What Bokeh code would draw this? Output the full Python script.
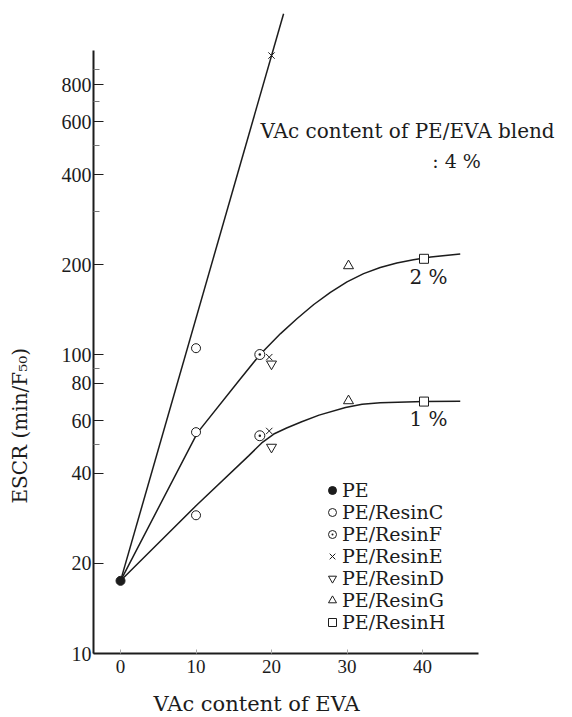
import math
from bokeh.plotting import figure
from bokeh.models import (Range1d, FixedTicker, PrintfTickFormatter, Label,
                          Legend, LegendItem, Title)
from bokeh.embed import file_html
from bokeh.resources import INLINE

# ---------------- data ----------------
x_ticks = [0, 10, 20, 30, 40]
y_ticks = [10, 20, 40, 60, 80, 100, 200, 400, 600, 800]
y_minor = [50, 90, 300, 500, 700, 900]

pe_x = [0]
pe_y = [17.5]
resinC_x = [10, 10, 10]
resinC_y = [105, 55, 29]
resinF_x = [18.45, 18.45]
resinF_y = [100, 53.5]
resinE_x = [20, 19.7, 19.7]
resinE_y = [1000, 98, 55.5]
resinD_x = [20, 20]
resinD_y = [93, 49]
resinG_x = [30.2, 30.2]
resinG_y = [198, 70]
resinH_x = [40.2, 40.2]
resinH_y = [209, 69.6]

# blend curves
line4_x = [0, 21.6]
line4_y = [17.5, 1380]
curve2_x = [0, 10.2, 15.7, 18.45, 21.2, 23.4, 25.6, 27.8, 30.0, 32.2, 34.4, 36.6, 38.8, 41.1, 45.0]
curve2_y = [17.5, 54.8, 81.9, 99.8, 117.5, 132, 147, 161.5, 175, 186.5, 195.5, 202.5, 207.5, 212, 217]
curve1_x = [0, 10, 17.0, 18.7, 20.3, 22.0, 24.0, 26.3, 29.8, 32.0, 34.4, 40.2, 45.0]
curve1_y = [17.5, 31.2, 45.9, 50.6, 54.2, 56.8, 59.6, 62.7, 66.5, 68.2, 69.0, 69.6, 69.8]

INK = "#1c1c1c"
SERIF = "DejaVu Serif"
NUM = "Liberation Serif"

p = figure(width=572, height=717, output_backend="svg", toolbar_location=None,
           x_range=Range1d(-3.58, 59.87), y_range=Range1d(10, 1528),
           y_axis_type="log", min_border_left=93, min_border_right=0,
           min_border_top=0, min_border_bottom=64)
p.outline_line_color = None
p.xgrid.visible = False
p.ygrid.visible = False
p.background_fill_color = "white"

# axes
xa = p.xaxis[0]
xa.ticker = FixedTicker(ticks=x_ticks)
xa.bounds = (-3.58, 47.4)
xa.axis_line_width = 2
xa.axis_line_color = INK
xa.major_tick_in = 4
xa.major_tick_out = 0
xa.major_tick_line_color = "#aaaaaa"
xa.minor_tick_line_color = None
xa.major_label_standoff = 6
xa.major_label_text_font = NUM
xa.major_label_text_font_size = "19px"
xa.major_label_text_color = INK

ya = p.yaxis[0]
ya.ticker = FixedTicker(ticks=y_ticks, minor_ticks=y_minor)
ya.formatter = PrintfTickFormatter(format="%d")
ya.bounds = (10, 1040)
ya.axis_line_width = 2
ya.axis_line_color = INK
ya.major_tick_in = 10
ya.major_tick_out = 0
ya.minor_tick_in = 6
ya.minor_tick_out = 0
ya.major_tick_line_color = INK
ya.minor_tick_line_color = "#777777"
ya.major_label_standoff = 2
ya.major_label_text_font = NUM
ya.major_label_text_font_size = "20px"
ya.major_label_text_color = INK

# axis titles as side-panel titles (placed along the axes like the original)
p.add_layout(Title(text="VAc content of EVA", align="left", offset=60, standoff=0,
                   vertical_align="top",
                   padding=dict(left=0, right=0, top=16, bottom=0),
                   text_font=SERIF, text_font_size="21px", text_font_style="normal",
                   text_color=INK), "below")
p.add_layout(Title(text="ESCR (min/F\u2085\u2080)", align="left", offset=150, standoff=0,
                   vertical_align="bottom",
                   padding=dict(left=0, right=0, top=0, bottom=27),
                   text_font=SERIF, text_font_size="20px", text_font_style="normal",
                   text_color=INK), "left")

# curves
p.line(line4_x, line4_y, line_color=INK, line_width=1.5)
p.line(curve2_x, curve2_y, line_color=INK, line_width=1.5)
p.line(curve1_x, curve1_y, line_color=INK, line_width=1.5)

# markers
r_pe = p.scatter(pe_x, pe_y, marker="circle", size=9, fill_color=INK, line_color=INK)
r_c = p.scatter(resinC_x, resinC_y, marker="circle", size=9, fill_color="white", line_color=INK, line_width=1)
r_f = p.scatter(resinF_x, resinF_y, marker="circle_dot", size=10, fill_color="white", line_color=INK, line_width=1)
r_e = p.scatter(resinE_x, resinE_y, marker="x", size=9, line_color=INK, line_width=1)
r_d = p.scatter(resinD_x, resinD_y, marker="inverted_triangle", size=10, fill_color="white", line_color=INK, line_width=1)
r_g = p.scatter(resinG_x, resinG_y, marker="triangle", size=10, fill_color="white", line_color=INK, line_width=1)
r_h = p.scatter(resinH_x, resinH_y, marker="square", size=9, fill_color="white", line_color=INK, line_width=1)

legend = Legend(items=[
    LegendItem(label="PE", renderers=[r_pe]),
    LegendItem(label="PE/ResinC", renderers=[r_c]),
    LegendItem(label="PE/ResinF", renderers=[r_f]),
    LegendItem(label="PE/ResinE", renderers=[r_e]),
    LegendItem(label="PE/ResinD", renderers=[r_d]),
    LegendItem(label="PE/ResinG", renderers=[r_g]),
    LegendItem(label="PE/ResinH", renderers=[r_h]),
], location=(229, 20))
legend.glyph_width = 20
legend.glyph_height = 22
legend.label_height = 22
legend.label_standoff = 0
legend.spacing = 0
legend.padding = 0
legend.margin = 0
legend.background_fill_alpha = 0
legend.border_line_alpha = 0
legend.label_text_font = SERIF
legend.label_text_font_size = "19px"
legend.label_text_color = INK
p.add_layout(legend, "center")

def lab(text, x, y, size, align="left"):
    p.add_layout(Label(text=text, x=x, y=y, x_units="screen", y_units="screen",
                       text_font=SERIF, text_font_size=size, text_color=INK,
                       text_align=align, text_baseline="middle"))

lab("VAc content of PE/EVA blend", 167, 523, "20px")
lab(": 4 %", 363, 493, "19px", align="center")
lab("2 %", 335, 377, "20px", align="center")
lab("1 %", 335, 235, "20px", align="center")

open("out.html", "w").write(file_html(p, INLINE))
